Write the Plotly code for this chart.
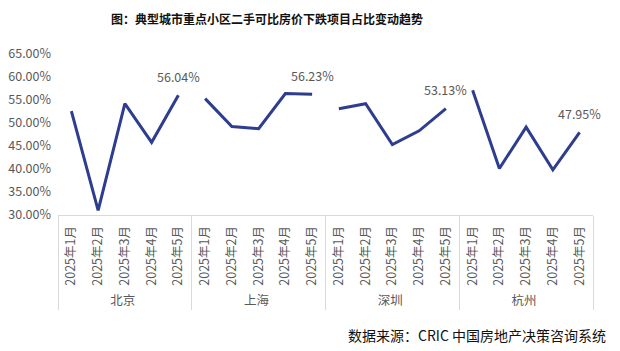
import plotly.graph_objects as go

cities = ["北京", "上海", "深圳", "杭州"]
months = ["2025年1月", "2025年2月", "2025年3月", "2025年4月", "2025年5月"]
values = {
    "北京": [52.6, 31.0, 54.2, 45.8, 56.04],
    "上海": [55.3, 49.25, 48.75, 56.4, 56.23],
    "深圳": [53.1, 54.2, 45.3, 48.3, 53.13],
    "杭州": [57.1, 40.1, 49.1, 39.8, 47.95],
}
title_text = "图：典型城市重点小区二手可比房价下跌项目占比变动趋势"
source_text = "数据来源：CRIC 中国房地产决策咨询系统"

LINE = "#2E3D8E"
GRAY = "#595959"
FONT = "Noto Sans CJK SC"

L, R, T, B = 58, 27, 54, 136
W, H = 620, 351
pw, ph = W - L - R, H - T - B

def px2paper(x, y):
    return (x - L) / pw, 1 - (y - T) / ph

fig = go.Figure()
annotations = []
idx = 0
for c in cities:
    v = values[c]
    fig.add_trace(go.Scatter(
        x=[[c] * len(months), months],
        y=v,
        mode="lines",
        line=dict(color=LINE, width=3),
        showlegend=False,
    ))
    idx += len(v)
    annotations.append(dict(
        x=idx - 1, y=v[-1], xref="x", yref="y",
        text=f"{v[-1]:.2f}%", showarrow=False, yshift=19,
        font=dict(family=FONT, size=12.5, color=GRAY),
    ))

tx, ty = px2paper(267, 18)
sx, sy = px2paper(477, 335)
annotations += [
    dict(text=title_text, x=tx, y=ty, xref="paper", yref="paper", showarrow=False,
         xanchor="center", yanchor="middle",
         font=dict(family=FONT, size=12, color="#111111", weight="bold")),
    dict(text=source_text, x=sx, y=sy, xref="paper", yref="paper", showarrow=False,
         xanchor="center", yanchor="middle",
         font=dict(family=FONT, size=14, color="#111111")),
]

fig.update_layout(
    width=W, height=H,
    margin=dict(l=L, r=R, t=T, b=B, autoexpand=False),
    paper_bgcolor="white", plot_bgcolor="white",
    font=dict(family=FONT, color=GRAY),
    annotations=annotations,
)

fig.update_xaxes(
    type="multicategory",
    range=[-0.5, 19.5],
    tickangle=-90,
    tickfont=dict(family=FONT, size=12.5, color=GRAY),
    ticklabelstandoff=5,
    showline=True, linecolor="#D9D9D9", linewidth=1,
    showgrid=False,
    showdividers=True, dividercolor="#D9D9D9", dividerwidth=1,
    ticks="",
    automargin=False,
)
fig.update_yaxes(
    range=[30, 65],
    dtick=5,
    tickformat=".2f", ticksuffix="%",
    tickfont=dict(family=FONT, size=12.5, color=GRAY),
    ticklabelstandoff=6,
    showgrid=False, zeroline=False, showline=False,
    automargin=False,
)

fig.write_html("out.html")
